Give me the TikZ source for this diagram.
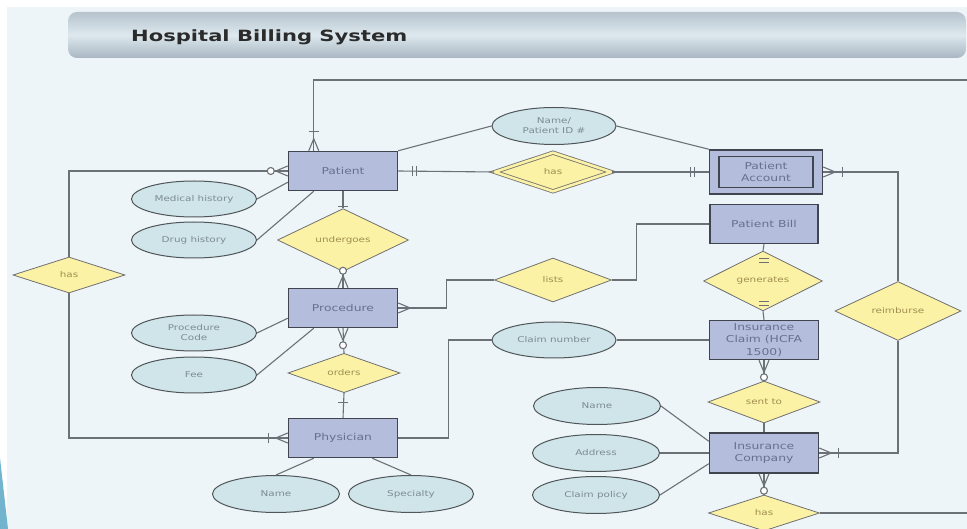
\documentclass[tikz,border=0pt]{standalone}
\usepackage{fontspec}
\setmainfont{DejaVu Sans}
\newfontfamily\labelfont[FakeStretch=1.3]{DejaVu Sans}
\newfontfamily\headfont[FakeStretch=1.36]{DejaVu Sans Bold}
\usetikzlibrary{shapes.geometric,calc}

\definecolor{bgcol}{HTML}{EEF5F9}
\definecolor{entfill}{HTML}{B4BEDC}
\definecolor{entdraw}{HTML}{41454F}
\definecolor{enttext}{HTML}{66708F}
\definecolor{attrfill}{HTML}{CFE5EA}
\definecolor{attrdraw}{HTML}{4F5558}
\definecolor{attrtext}{HTML}{7C8C92}
\definecolor{relfill}{HTML}{FBF2A6}
\definecolor{reldraw}{HTML}{707070}
\definecolor{reltext}{HTML}{A08E50}
\definecolor{linecol}{HTML}{6C7177}
\definecolor{titletext}{HTML}{2B2B2B}
\definecolor{barTop}{HTML}{B7C3CD}
\definecolor{barMid}{HTML}{DDE9EE}
\definecolor{barBot}{HTML}{A9B5C1}
\definecolor{wedgecol}{HTML}{72B4CE}

\tikzset{
  conn/.style={draw=linecol, line width=1.1pt},
  entity/.style={rectangle, draw=entdraw, line width=1.5pt, fill=entfill,
    minimum width=109pt, minimum height=39pt, inner sep=0pt, align=center,
    text=enttext, font=\labelfont\fontsize{9.5}{12.5}\selectfont},
  attr/.style={ellipse, draw=attrdraw, line width=1pt, fill=attrfill,
    minimum width=125pt, minimum height=36pt, inner sep=0pt, align=center,
    text=attrtext, font=\labelfont\fontsize{8}{10}\selectfont},
  rel/.style={diamond, aspect=1, draw=reldraw, line width=0.8pt, fill=relfill,
    minimum width=112pt, minimum height=36pt, inner sep=0pt,
    text=reltext, font=\labelfont\fontsize{8}{10}\selectfont},
  % cardinality marks: +x points away from the entity
  pics/crowfoot/.style={code={\draw[conn] (0,-5) -- (12,0) -- (0,5);}},
  pics/onemany/.style={code={\draw[conn] (0,-5) -- (12,0) -- (0,5);
      \draw[conn] (19,-5) -- (19,5);}},
  pics/zeromany/.style={code={\draw[conn] (0,-5) -- (12,0) -- (0,5);
      \draw[conn, fill=white] (17,0) circle (3.5);}},
  pics/oneone/.style={code={\draw[conn] (14,-5) -- (14,5);
      \draw[conn] (18,-5) -- (18,5);}},
  pics/onebar/.style={code={\draw[conn] (15,-5) -- (15,5);}},
}

\begin{document}
\begin{tikzpicture}[x=1pt, y=-1pt]
  % page background
  \fill[white] (0,0) rectangle (967,529);
  \fill[bgcol] (7,7) rectangle (967,529);
  \fill[wedgecol] (0,458) -- (8,529) -- (0,529) -- cycle;
  \useasboundingbox (0,0) rectangle (967,529);

  % title bar
  \shade[top color=barTop, bottom color=barBot, middle color=barMid,
         rounded corners=9pt] (68,12) rectangle (966,58);
  \node[anchor=base west, inner sep=0pt, text=titletext,
        font=\headfont\fontsize{15.5}{18}\selectfont] (title) at (131,42)
        {Hospital Billing System};

  % entities
  \node[entity] (pat)   at (343,171) {Patient};
  \node[entity] (proc)  at (343,308) {Procedure};
  \node[entity] (phy)   at (343,438) {Physician};
  \node[entity, minimum width=113pt, minimum height=44pt] (pacc) at (766,172) {};
  \node[entity, line width=1.3pt, minimum width=94pt, minimum height=31pt] (paccin)
        at (766,172) {Patient\\Account};
  \node[entity, minimum width=108pt] (bill) at (764,224) {Patient Bill};
  \node[entity] (claim) at (764,340) {Insurance\\Claim (HCFA\\1500)};
  \node[entity, minimum height=40pt] (comp) at (764,453) {Insurance\\Company};

  % relationships
  \node[rel, minimum width=131pt, minimum height=43pt] (und) at (343,240) {undergoes};
  \node[rel] (hasL) at (69,275) {has};
  \node[rel] (ord)  at (344,373) {orders};
  \node[rel, minimum width=117pt, minimum height=39pt,
        double=relfill, double distance=2.6pt] (hasD) at (553,172) {has};
  \node[rel, minimum width=117pt, minimum height=44pt] (lists) at (553,280) {lists};
  \node[rel, minimum width=119pt, minimum height=37pt] (gen) at (763,281) {generates};
  \node[rel, minimum width=126pt, minimum height=38pt] (reim) at (898,311) {reimburse};
  \node[rel, minimum height=34pt] (sent) at (764,402) {sent to};
  \node[rel, minimum width=111pt] (hasB) at (764,513) {has};

  % attributes
  \node[attr, minimum width=124pt, minimum height=37pt] (npid) at (554,126) {Name/\\Patient ID \#};
  \node[attr] (medh)  at (194,199) {Medical history};
  \node[attr] (drug)  at (194,240) {Drug history};
  \node[attr] (pcode) at (194,333) {Procedure\\Code};
  \node[attr] (fee)   at (194,375) {Fee};
  \node[attr, minimum width=127pt, minimum height=37pt] (pname) at (276,494) {Name};
  \node[attr, minimum height=37pt] (spec)  at (411,494) {Specialty};
  \node[attr, minimum width=124pt] (cnum)  at (554,340) {Claim number};
  \node[attr, minimum width=127pt, minimum height=37pt] (iname) at (597,406) {Name};
  \node[attr, minimum width=127pt, minimum height=37pt] (addr)  at (596,453) {Address};
  \node[attr, minimum width=127pt, minimum height=37pt] (cpol)  at (596,495) {Claim policy};

  % free ends at the page edge
  \coordinate (topR) at (975,80);
  \coordinate (botR) at (975,513);

  % connectors
  \draw[conn] ([xshift=26pt]pat.north west) |- (topR);
  \draw[conn] (pat.west) -| (hasL.north);
  \draw[conn] (hasL.south) |- (phy.west);
  \draw[conn] (medh.east) -- ([yshift=9pt]pat.south west);
  \draw[conn] (drug.east) -- ([xshift=26pt]pat.south west);
  \draw[conn] (pat.north east) -- (npid.west);
  \draw[conn] (npid.east) -- (pacc.north west);
  \draw[conn] (pat.east) -- (hasD.west);
  \draw[conn] (hasD.east) -- (pacc.west);
  \draw[conn] (pat.south) -- (und.north);
  \draw[conn] (und.south) -- (proc.north);
  \draw[conn] (proc.east) -| ([xshift=-48pt]lists.west) -- (lists.west);
  \draw[conn] (lists.east) -| ([xshift=-73pt]bill.west) -- (bill.west);
  \draw[conn] (bill.south) -- (gen.north);
  \draw[conn] (gen.south) -- (claim.north);
  \draw[conn] (claim.west) -- (cnum.east);
  \draw[conn] (cnum.west) -| ([xshift=50pt]phy.east) -- (phy.east);
  \draw[conn] (proc.south) -- (ord.north);
  \draw[conn] (ord.south) -- (phy.north);
  \draw[conn] (pcode.east) -- ([yshift=10pt]proc.south west);
  \draw[conn] (fee.east) -- ([xshift=26pt]proc.south west);
  \draw[conn] ([xshift=26pt]phy.south west) -- (pname.north);
  \draw[conn] ([xshift=-26pt]phy.south east) -- (spec.north);
  \draw[conn] (claim.south) -- (sent.north);
  \draw[conn] (sent.south) -- (comp.north);
  \draw[conn] (iname.east) -- ([yshift=-9pt]comp.north west);
  \draw[conn] (addr.east) -- (comp.west);
  \draw[conn] (cpol.east) -- ([yshift=10pt]comp.south west);
  \draw[conn] (comp.east) -| (reim.south);
  \draw[conn] (reim.north) |- (pacc.east);
  \draw[conn] (comp.south) -- (hasB.north);
  \draw[conn] (hasB.east) -- (botR);

  % cardinality marks
  \pic[rotate=90]  at ([xshift=26pt]pat.north west) {onemany};
  \pic[rotate=180] at (pat.west)    {zeromany};
  \pic             at (pat.east)    {oneone};
  \pic[rotate=-90] at (pat.south)   {onebar};
  \pic[rotate=180] at (pacc.west)   {oneone};
  \pic             at (pacc.east)   {onemany};
  \pic[rotate=90]  at (proc.north)  {zeromany};
  \pic             at (proc.east)   {crowfoot};
  \pic[rotate=-90] at (proc.south)  {zeromany};
  \pic[rotate=90]  at (phy.north)   {onebar};
  \pic[rotate=180] at (phy.west)    {onemany};
  \pic[rotate=-90] at (bill.south)  {oneone};
  \pic[rotate=90]  at (claim.north) {oneone};
  \pic[rotate=-90] at (claim.south) {zeromany};
  \pic             at (comp.east)   {onemany};
  \pic[rotate=-90] at (comp.south)  {zeromany};
\end{tikzpicture}
\end{document}
